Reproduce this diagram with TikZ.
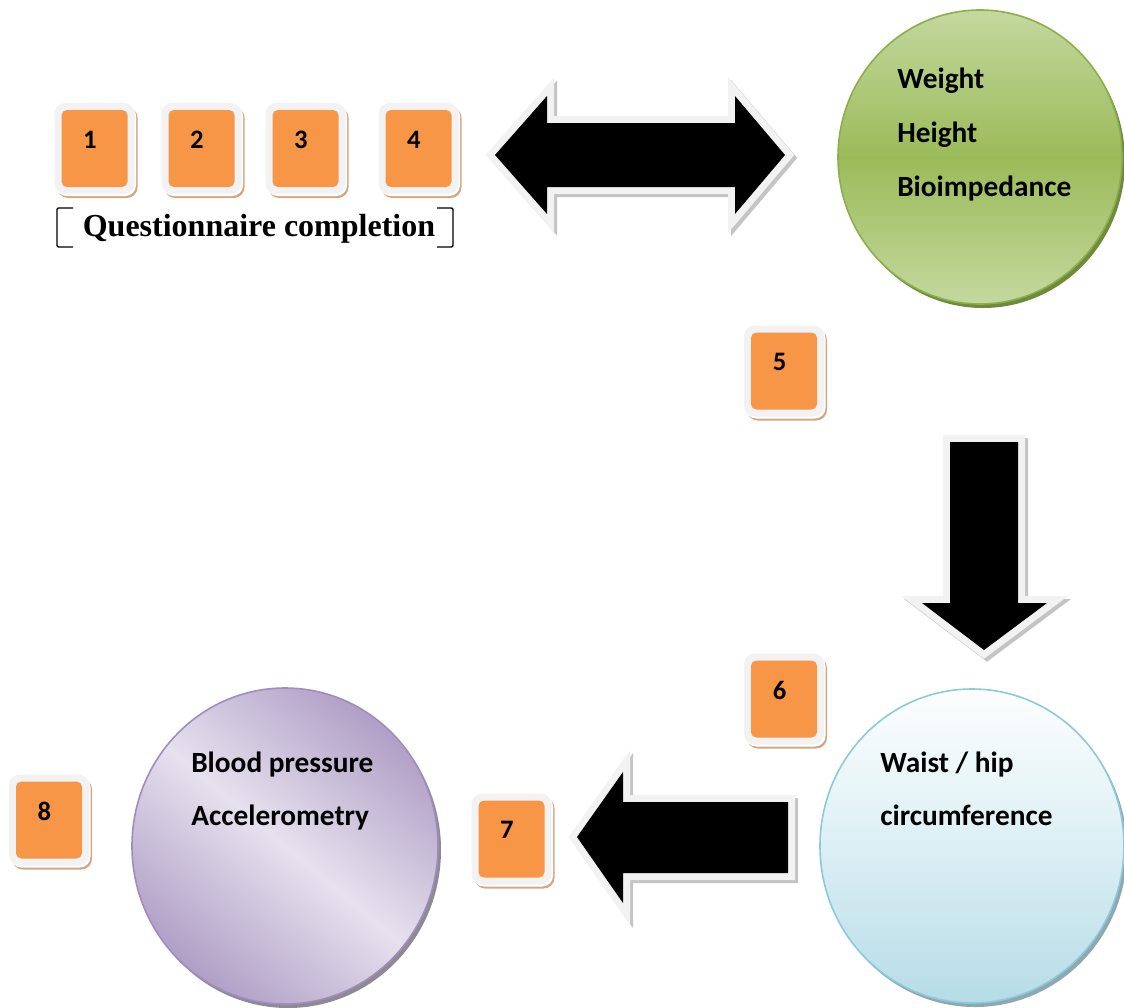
\documentclass[tikz,border=0pt]{standalone}
\usepackage{fontspec}
\setmainfont{Carlito}
\newfontfamily\qfont{Liberation Serif}
\usetikzlibrary{shapes.geometric,calc}
\definecolor{orng}{HTML}{F79646}
\definecolor{tanshadow}{HTML}{D5A682}
\definecolor{frame}{HTML}{F2F2F2}
\definecolor{arrowshadow}{HTML}{C4C4C4}
\definecolor{greenlt}{HTML}{C4D89E}
\definecolor{greenmid}{HTML}{9BBB59}
\definecolor{greenedge}{HTML}{8CAE4C}
\definecolor{greenshadow}{HTML}{6E8A3A}
\definecolor{bluelt}{HTML}{FDFEFE}
\definecolor{bluemid}{HTML}{DCEFF4}
\definecolor{bluebot}{HTML}{B6DCE7}
\definecolor{blueedge}{HTML}{8CCADB}
\definecolor{blueshadow}{HTML}{8FA7AE}
\definecolor{purpdark}{HTML}{B09FC6}
\definecolor{purplt}{HTML}{E6E1EE}
\definecolor{purpedge}{HTML}{A08CBE}
\definecolor{purpshadow}{HTML}{8E8A94}
\begin{document}
\begin{tikzpicture}[x=0.75pt,y=-0.75pt,
  boxin/.style={rectangle, rounded corners=4pt, fill=orng, minimum width=49.5pt, minimum height=57.75pt, inner sep=0pt},
  numtxt/.style={font=\bfseries\fontsize{20}{22}\selectfont, inner sep=0pt},
  circtxt/.style={font=\bfseries\fontsize{22}{25}\selectfont, anchor=base west, inner sep=0pt},
  bigarrow/.style={preaction={draw=frame, line width=10.5pt, line join=miter}, fill=black},
  arrowshade/.style={draw=arrowshadow, fill=arrowshadow, line width=10.5pt, line join=miter},
  bracket/.style={draw=black, line width=1.1pt, rounded corners=1pt}
]
\useasboundingbox (0,0) rectangle (1124,1007);

\newcommand\numbox[4]{%
  \fill[tanshadow, rounded corners=8pt] (#2-40+3,#3-45.5+4) rectangle (#2+40+3,#3+45.5+4);
  \fill[white, rounded corners=8pt] (#2-40+1.5,#3-45.5+2) rectangle (#2+40+1.5,#3+45.5+2);
  \fill[frame, rounded corners=8pt] (#2-40,#3-45.5) rectangle (#2+40,#3+45.5);
  \node[boxin] (#1) at (#2,#3) {};
  \node[numtxt] (#1t) at (#2-4.5,#3-9) {#4};
}

% block arrow outlines
\def\arrowA{(495,155) -- (547,96) -- (547,123) -- (735,123) -- (735,96) -- (785,155) -- (735,214) -- (735,187) -- (547,187) -- (547,214) -- cycle}
\def\arrowB{(950,442) -- (1018,442) -- (1018,603) -- (1047,603) -- (984,650) -- (922,603) -- (950,603) -- cycle}
\def\arrowC{(577,837) -- (623,772) -- (623,802) -- (788,802) -- (788,873) -- (623,873) -- (623,903) -- cycle}

\begin{scope}[shift={(3,3)}]
  \path[arrowshade] \arrowA;
  \path[arrowshade] \arrowB;
  \path[arrowshade] \arrowC;
\end{scope}
\path[bigarrow] \arrowA;
\path[bigarrow] \arrowB;
\path[bigarrow] \arrowC;

% circles
\fill[greenshadow] (983,161) ellipse [x radius=142, y radius=147];
\node[ellipse, minimum width=213pt, minimum height=220.5pt, draw=greenedge, line width=1.2pt,
      top color=greenlt, bottom color=greenlt, middle color=greenmid] (weigh) at (980,157) {};
\fill[blueshadow] (975,850) ellipse [x radius=152, y radius=157];
\node[ellipse, minimum width=228pt, minimum height=235.5pt, draw=blueedge, line width=1.2pt,
      top color=bluelt, bottom color=bluebot, middle color=bluemid] (waist) at (972,846) {};
\fill[purpshadow] (288,850) ellipse [x radius=153, y radius=158];
\node[ellipse, minimum width=229.5pt, minimum height=237pt, draw=purpedge, line width=1.2pt,
      top color=purpdark, bottom color=purpdark, middle color=purplt, shading angle=-40] (blood) at (285,846) {};

% circle texts
\node[circtxt] (tw) at (897,88) {Weight};
\node[circtxt] (th) at (897,142) {Height};
\node[circtxt] (tb) at (897,196) {Bioimpedance};
\node[circtxt] (twh) at (880,772) {Waist / hip};
\node[circtxt] (tc) at (880,825) {circumference};
\node[circtxt] (tbp) at (191,772) {Blood pressure};
\node[circtxt] (ta) at (191,825) {Accelerometry};

% number boxes
\numbox{b1}{94.5}{148.5}{1}
\numbox{b2}{201.5}{148.5}{2}
\numbox{b3}{305.5}{148.5}{3}
\numbox{b4}{418.5}{148.5}{4}
\numbox{b5}{784}{371}{5}
\numbox{b6}{784}{699}{6}
\numbox{b7}{511.5}{839}{7}
\numbox{b8}{49}{820}{8}

% questionnaire label
\node[font=\qfont\bfseries\fontsize{24}{28}\selectfont, anchor=base, inner sep=0pt] (qc) at (259,236) {Questionnaire completion};
\draw[bracket] (73,208) -- (57,208) -- (57,247) -- (73,247);
\draw[bracket] (437,208) -- (453,208) -- (453,247) -- (437,247);
\end{tikzpicture}
\end{document}
